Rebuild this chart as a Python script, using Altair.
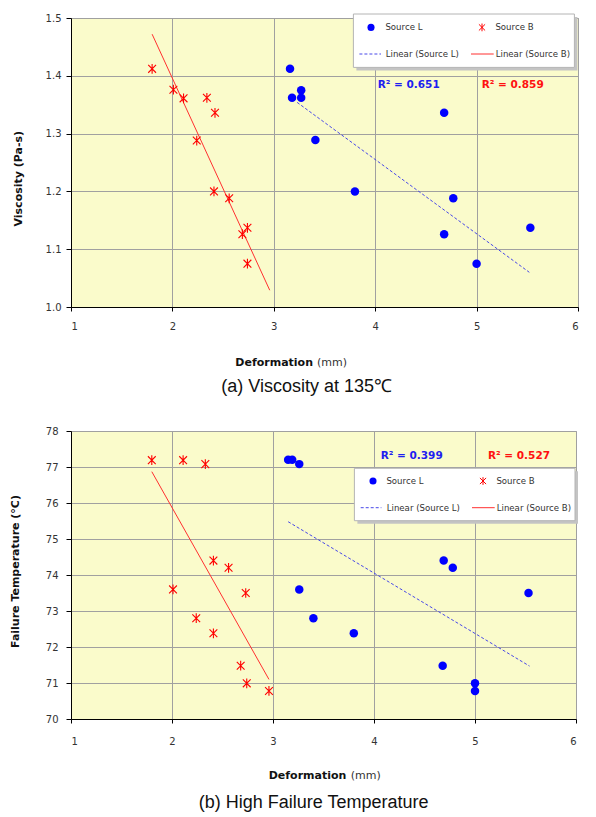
import altair as alt
import pandas as pd

# ---------- (a) Viscosity at 135 ℃ ----------
a_L_def = [3.16, 3.18, 3.27, 3.27, 3.41, 3.80, 4.68, 4.77, 4.68, 5.00, 5.53]
a_L_vis = [1.412, 1.362, 1.375, 1.362, 1.289, 1.200, 1.336, 1.188, 1.126, 1.075, 1.137]
a_B_def = [1.80, 2.01, 2.11, 2.34, 2.42, 2.24, 2.41, 2.56, 2.74, 2.69, 2.74]
a_B_vis = [1.412, 1.376, 1.361, 1.362, 1.336, 1.288, 1.200, 1.188, 1.137, 1.126, 1.075]
a_trend_L_def = [3.23, 5.52]
a_trend_L_vis = [1.354, 1.060]
a_trend_B_def = [1.80, 2.96]
a_trend_B_vis = [1.472, 1.029]
a_r2 = ["R² = 0.651", "R² = 0.859"]
a_y_ticks = [1.0, 1.1, 1.2, 1.3, 1.4, 1.5]

# ---------- (b) High Failure Temperature ----------
b_L_def = [3.15, 3.19, 3.26, 3.26, 3.40, 3.80, 4.69, 4.78, 4.68, 5.00, 5.00, 5.53]
b_L_temp = [77.2, 77.2, 77.08, 73.6, 72.8, 72.38, 74.4, 74.2, 71.48, 70.99, 70.78, 73.5]
b_B_def = [1.80, 2.11, 2.33, 2.41, 2.56, 2.01, 2.73, 2.24, 2.41, 2.68, 2.74, 2.96]
b_B_temp = [77.19, 77.19, 77.08, 74.4, 74.2, 73.6, 73.5, 72.8, 72.38, 71.48, 70.99, 70.78]
b_trend_L_def = [3.15, 5.54]
b_trend_L_temp = [75.48, 71.47]
b_trend_B_def = [1.80, 2.96]
b_trend_B_temp = [76.87, 71.10]
b_r2 = ["R² = 0.399", "R² = 0.527"]
b_y_ticks = [70, 71, 72, 73, 74, 75, 76, 77, 78]

x_ticks = [1, 2, 3, 4, 5, 6]
legend_labels = ["Source L", "Source B", "Linear (Source L)", "Linear (Source B)"]
x_title = ["Deformation", "(mm)"]
y_titles = ["Viscosity (Pa-s)", "Failure Temperature  (°C)"]
captions = ["(a) Viscosity at 135℃", "(b) High Failure Temperature"]

BLUE = "#0000FF"
RED = "#FF0000"
STAR = "M-0.8,-0.8L0.8,0.8M0.8,-0.8L-0.8,0.8M0,-1L0,1"
FONT = "DejaVu Sans"
CAPFONT = "Liberation Sans Narrow, Liberation Sans, sans-serif"


def one(txt):
    return pd.DataFrame({"t": [txt]})


def panel(Lx, Ly, Bx, By, tLx, tLy, tBx, tBy, r2, yticks, yfmt, ytitle, caption, W, H, p):
    xs = alt.Scale(domain=[1, 6], nice=False, zero=False)
    ys = alt.Scale(domain=[yticks[0], yticks[-1]], nice=False, zero=False)
    xax = alt.Axis(values=x_ticks, format="d", title=None, grid=True, tickSize=4,
                   labelPadding=p["xlp"])
    yax = alt.Axis(values=yticks, format=yfmt, title=None, grid=True, tickSize=5,
                   labelPadding=p["ylp"])
    X = alt.X("x:Q", scale=xs, axis=xax)
    Y = alt.Y("y:Q", scale=ys, axis=yax)

    layers = []
    layers.append(alt.Chart(pd.DataFrame({"x": tBx, "y": tBy})).mark_line(
        color="#FF3030", strokeWidth=1).encode(x=X, y=Y))
    layers.append(alt.Chart(pd.DataFrame({"x": tLx, "y": tLy})).mark_line(
        color="#4848E8", strokeWidth=1, strokeDash=[3, 2]).encode(x=X, y=Y))
    layers.append(alt.Chart(pd.DataFrame({"x": Lx, "y": Ly})).mark_point(
        shape="circle", filled=True, color=BLUE, size=72, opacity=1).encode(x=X, y=Y))
    layers.append(alt.Chart(pd.DataFrame({"x": Bx, "y": By})).mark_point(
        shape=STAR, filled=False, color=RED, size=95, strokeWidth=1.1, opacity=1).encode(x=X, y=Y))

    # legend box
    bx0, bx1, by0, by1 = p["box"]
    layers.append(alt.Chart(one("s")).mark_rect(fill="#C4C4C4").encode(
        x=alt.value(bx0 + 3), x2=alt.value(bx1 + 3), y=alt.value(by0 + 3), y2=alt.value(by1 + 3)))
    layers.append(alt.Chart(one("b")).mark_rect(fill="white", stroke="#B4B4B4", strokeWidth=1).encode(
        x=alt.value(bx0), x2=alt.value(bx1), y=alt.value(by0), y2=alt.value(by1)))
    r1, r2y = p["rows"]
    layers.append(alt.Chart(one("d")).mark_point(shape="circle", filled=True, color=BLUE, size=50, opacity=1).encode(
        x=alt.value(p["dot"]), y=alt.value(r1)))
    layers.append(alt.Chart(one("k")).mark_point(shape=STAR, filled=False, color=RED, size=60, strokeWidth=1, opacity=1).encode(
        x=alt.value(p["star"]), y=alt.value(r1)))
    layers.append(alt.Chart(one("l1")).mark_rule(color="#4848E8", strokeWidth=1, strokeDash=[3, 2]).encode(
        x=alt.value(p["dash"][0]), x2=alt.value(p["dash"][1]), y=alt.value(r2y)))
    layers.append(alt.Chart(one("l2")).mark_rule(color="#FF3030", strokeWidth=1).encode(
        x=alt.value(p["solid"][0]), x2=alt.value(p["solid"][1]), y=alt.value(r2y)))
    for lab, (tx, ty) in zip(legend_labels, [(p["t1"], r1), (p["t2"], r1), (p["t3"], r2y), (p["t4"], r2y)]):
        layers.append(alt.Chart(one(lab)).mark_text(
            align="left", baseline="middle", font=FONT, fontSize=8.6, color="#333333").encode(
            text="t:N", x=alt.value(tx), y=alt.value(ty)))

    # R² labels
    layers.append(alt.Chart(one(r2[0])).mark_text(
        align="left", baseline="middle", font=FONT, fontSize=10.5, fontWeight="bold", color="#1E1EF0").encode(
        text="t:N", x=alt.value(p["r2x"][0]), y=alt.value(p["r2y"])))
    layers.append(alt.Chart(one(r2[1])).mark_text(
        align="left", baseline="middle", font=FONT, fontSize=10.5, fontWeight="bold", color="#FF1010").encode(
        text="t:N", x=alt.value(p["r2x"][1]), y=alt.value(p["r2y"])))

    # axis titles and caption
    layers.append(alt.Chart(one(ytitle)).mark_text(
        angle=270, align="center", baseline="middle", font=FONT, fontSize=11, fontWeight="bold", color="#111111").encode(
        text="t:N", x=alt.value(p["yt"][0]), y=alt.value(p["yt"][1])))
    layers.append(alt.Chart(one(x_title[0])).mark_text(
        align="right", baseline="middle", font=FONT, fontSize=11, fontWeight="bold", color="#111111").encode(
        text="t:N", x=alt.value(p["xt"][0]), y=alt.value(p["xt"][2])))
    layers.append(alt.Chart(one(x_title[1])).mark_text(
        align="left", baseline="middle", font=FONT, fontSize=11, color="#333333").encode(
        text="t:N", x=alt.value(p["xt"][1]), y=alt.value(p["xt"][2])))
    layers.append(alt.Chart(one(caption)).mark_text(
        align="center", baseline="middle", font=CAPFONT, fontSize=18, color="#111111").encode(
        text="t:N", x=alt.value(p["cap"][0]), y=alt.value(p["cap"][1])))

    return alt.layer(*layers).properties(width=W, height=H)


pa = dict(xlp=10, ylp=5, box=(282.4, 503.4, -4, 49.4), rows=(9.4, 36.0), dot=300, star=411,
          t1=314.4, t2=424.4, t3=314.7, t4=424.7, dash=(288.4, 310), solid=(400, 422.7),
          r2x=(306.7, 410.7), r2y=66.7, yt=(-51.6, 160.7), xt=(242, 246, 345), cap=(235.7, 369.4))
pb = dict(xlp=13.5, ylp=8, box=(283.4, 504, 37.3, 89.7), rows=(50, 76.7), dot=302, star=412,
          t1=315.4, t2=425.4, t3=315.7, t4=425.7, dash=(289.7, 310.4), solid=(401, 423.7),
          r2x=(309.7, 417), r2y=24.7, yt=(-54.6, 140.5), xt=(275.4, 279.7, 344.7), cap=(242.7, 372))

top = panel(a_L_def, a_L_vis, a_B_def, a_B_vis, a_trend_L_def, a_trend_L_vis, a_trend_B_def, a_trend_B_vis,
            a_r2, a_y_ticks, ".1f", y_titles[0], captions[0], 507, 289, pa)
bot = panel(b_L_def, b_L_temp, b_B_def, b_B_temp, b_trend_L_def, b_trend_L_temp, b_trend_B_def, b_trend_B_temp,
            b_r2, b_y_ticks, "d", y_titles[1], captions[1], 505, 288, pb)

chart = alt.vconcat(top, bot, spacing=28).properties(
    padding={"left": 1, "top": 4, "right": 0, "bottom": 0}
).configure_view(
    fill="#FAFBCB", stroke="#A8A8A8", strokeWidth=1
).configure_axis(
    labelFont=FONT, labelFontSize=10, labelColor="#333333", gridColor="#A0A0A0",
    gridWidth=1, domainColor="#000000", domainWidth=1, tickColor="#000000", tickWidth=1
)

chart.save("out.html", embed_options={"renderer": "svg", "actions": False})
